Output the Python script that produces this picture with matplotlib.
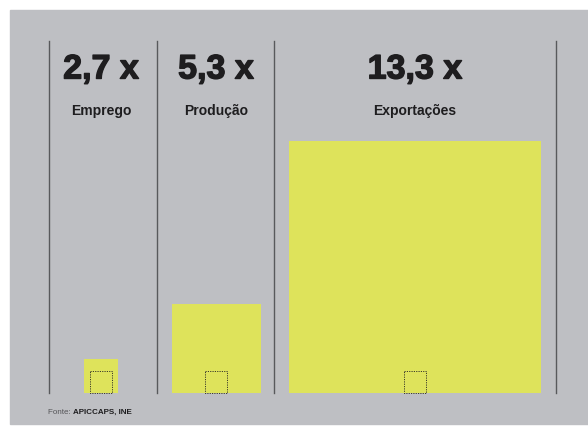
import matplotlib.pyplot as plt
import matplotlib.patches as patches
import matplotlib.patheffects as pe

# chart data (pixel units of the original graphic)
categories = ['Emprego', 'Produção', 'Exportações']
multipliers = [2.7, 5.3, 13.3]
centers = [101, 216, 415]
sides = [34, 89, 252]
base_side = 22
dividers = [49, 157, 274, 556]
source_label = 'Fonte:'
source_names = 'APICCAPS, INE'

colors = {
    'bg': '#bebfc3',
    'square': '#dee35b',
    'line': '#58595c',
    'text': '#1e1d1f',
}

W, H = 588, 428
baseline = 393

fig = plt.figure(figsize=(W / 100, H / 100), dpi=100)
fig.patch.set_facecolor('white')
ax = fig.add_axes([0, 0, 1, 1])
ax.set_xlim(0, W)
ax.set_ylim(H, 0)
ax.axis('off')

ax.add_patch(patches.Rectangle((10, 10), W - 10, 414, color=colors['bg'], zorder=0))

for x in dividers:
    ax.plot([x, x], [41, baseline], color=colors['line'], linewidth=1.0, zorder=1)

heavy = [pe.withStroke(linewidth=1.0, foreground=colors['text'])]

for cat, val, cx, s in zip(categories, multipliers, centers, sides):
    ax.add_patch(patches.Rectangle((cx - s / 2, baseline - s), s, s,
                                   color=colors['square'], linewidth=0, zorder=2))
    ax.add_patch(patches.Rectangle((cx - base_side / 2, baseline - base_side),
                                   base_side, base_side, fill=False,
                                   edgecolor='#3a3a2a', linestyle=(0, (1.2, 1.2)),
                                   linewidth=0.7, zorder=3))
    label = f'{val:.1f}'.replace('.', ',') + ' x'
    ax.text(cx, 70, label, ha='center', va='center', fontsize=24.5,
            fontweight='bold', family='Liberation Sans', color=colors['text'],
            path_effects=heavy)
    ax.text(cx, 111, cat, ha='center', va='center', fontsize=10,
            fontweight='bold', family='Liberation Sans', color=colors['text'])

t = ax.text(48, 412, source_label + ' ', ha='left', va='center', fontsize=5.8,
            family='Liberation Sans', color='#555558')
fig.canvas.draw()
bb = t.get_window_extent()
x_next = ax.transData.inverted().transform((bb.x1, bb.y0))[0]
ax.text(x_next, 412, source_names, ha='left', va='center', fontsize=5.8,
        fontweight='bold', family='Liberation Sans', color=colors['text'])

fig.savefig('out.png', dpi=100)
